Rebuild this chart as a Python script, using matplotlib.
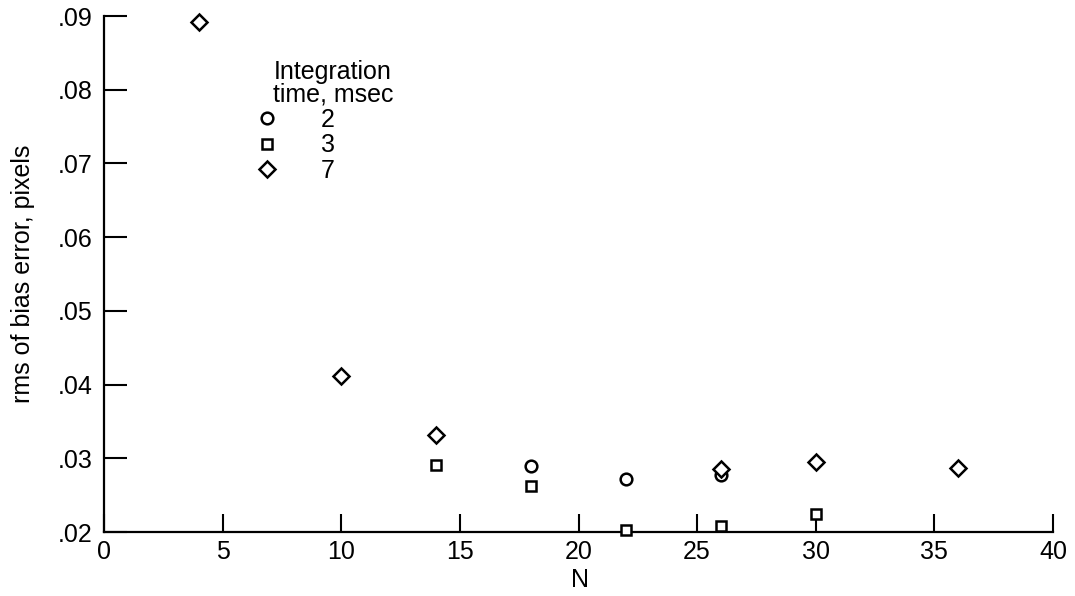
import matplotlib
matplotlib.use("Agg")
import matplotlib.pyplot as plt
from matplotlib.ticker import FuncFormatter
from matplotlib.lines import Line2D

plt.rcParams['font.family'] = ['Liberation Sans', 'DejaVu Sans']

# integration time 2 msec (circles)
n_2 = [18, 22, 26]
err_2 = [0.0290, 0.0272, 0.0277]
# integration time 3 msec (squares)
n_3 = [14, 18, 22, 26, 30]
err_3 = [0.0291, 0.0262, 0.0203, 0.0208, 0.0225]
# integration time 7 msec (diamonds)
n_7 = [4, 10, 14, 26, 30, 36]
err_7 = [0.0892, 0.0412, 0.0331, 0.0285, 0.0295, 0.0287]

series_labels = ['2', '3', '7']
series_markers = ['o', 's', 'D']
x_ticks = [0, 5, 10, 15, 20, 25, 30, 35, 40]
y_ticks = [0.02, 0.03, 0.04, 0.05, 0.06, 0.07, 0.08, 0.09]

fs = 18
fig = plt.figure(figsize=(10.75, 5.96), dpi=100)
ax = fig.add_axes([104 / 1075, 1 - 532 / 596, 949 / 1075, 516 / 596])

sizes = {'o': 8.4, 's': 7.8, 'D': 7.8}
mew = 1.8
for xs, ys, m in zip([n_2, n_3, n_7], [err_2, err_3, err_7], series_markers):
    ax.plot(xs, ys, linestyle='none', marker=m, markersize=sizes[m],
            markerfacecolor='white', markeredgecolor='black',
            markeredgewidth=mew, clip_on=False, zorder=3)

ax.set_xlim(0, 40)
ax.set_ylim(0.02, 0.09)
ax.set_xticks(x_ticks)
ax.set_yticks(y_ticks)
ax.yaxis.set_major_formatter(FuncFormatter(lambda v, p: ('%.2f' % v).lstrip('0')))

for s in ['top', 'right']:
    ax.spines[s].set_visible(False)
for s in ['left', 'bottom']:
    ax.spines[s].set_linewidth(1.6)

ax.tick_params(axis='x', direction='in', length=13, width=1.5, pad=6, labelsize=fs)
ax.tick_params(axis='y', direction='in', length=16.5, width=1.5, pad=8, labelsize=fs)

ax.set_xlabel('N', fontsize=fs)
ax.set_ylabel('rms of bias error, pixels', fontsize=fs)
ax.xaxis.set_label_coords(0.502, -0.07)
ax.yaxis.set_label_coords(-0.073, 0.5)

# legend
handles = [Line2D([], [], linestyle='none', marker=m, markersize=sizes[m],
                  markerfacecolor='white', markeredgecolor='black',
                  markeredgewidth=mew) for m in series_markers]
fig.legend(handles, series_labels, loc='upper left',
           bbox_to_anchor=(257 / 1075, 1 - 108 / 596),
           frameon=False, fontsize=fs, borderpad=0, borderaxespad=0,
           handlelength=0.8, handletextpad=1.75, labelspacing=0.05)
fig.text(333 / 1075, 1 - 60 / 596, 'Integration\ntime, msec', ha='center',
         va='top', fontsize=fs, linespacing=0.92)

fig.savefig('out.png', dpi=100)
